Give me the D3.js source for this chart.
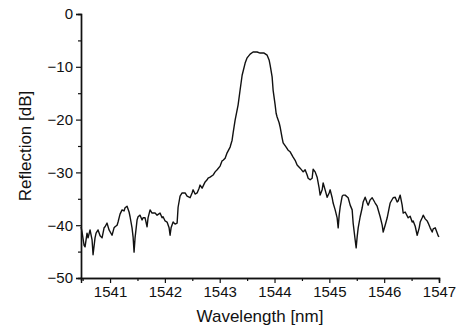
<!DOCTYPE html>
<html>
<head>
<meta charset="utf-8">
<script src="https://cdn.jsdelivr.net/npm/d3@7"></script>
<style>
  body { margin: 0; background: #fff; }
  text { font-family: Arial, "Liberation Sans", sans-serif; fill: #111; }
</style>
</head>
<body>
<div id="chart"></div>
<script>
// Reflection spectrum
const wavelength = [
  1540.471, 1540.489, 1540.526, 1540.544, 1540.580, 1540.599, 1540.635, 1540.672, 1540.690, 1540.726,
  1540.745, 1540.781, 1540.818, 1540.854, 1540.891, 1540.909, 1540.945, 1540.982, 1541.036, 1541.073,
  1541.091, 1541.128, 1541.146, 1541.182, 1541.219, 1541.255, 1541.274, 1541.310, 1541.347, 1541.365,
  1541.401, 1541.420, 1541.438, 1541.456, 1541.493, 1541.511, 1541.547, 1541.584, 1541.602, 1541.639,
  1541.675, 1541.693, 1541.730, 1541.766, 1541.821, 1541.858, 1541.912, 1541.949, 1541.967, 1542.004,
  1542.040, 1542.077, 1542.095, 1542.113, 1542.150, 1542.186, 1542.223, 1542.241, 1542.277, 1542.314,
  1542.369, 1542.405, 1542.460, 1542.496, 1542.515, 1542.551, 1542.588, 1542.624, 1542.642, 1542.679,
  1542.697, 1542.734, 1542.770, 1542.788, 1542.825, 1542.880, 1542.916, 1542.953, 1543.007, 1543.044,
  1543.062, 1543.099, 1543.135, 1543.190, 1543.226, 1543.245, 1543.281, 1543.336, 1543.372, 1543.409,
  1543.464, 1543.500, 1543.555, 1543.609, 1543.682, 1543.737, 1543.810, 1543.865, 1543.901, 1543.920,
  1543.956, 1543.974, 1544.011, 1544.029, 1544.047, 1544.084, 1544.102, 1544.139, 1544.157, 1544.212,
  1544.248, 1544.285, 1544.339, 1544.376, 1544.412, 1544.467, 1544.522, 1544.558, 1544.595, 1544.613,
  1544.650, 1544.686, 1544.704, 1544.741, 1544.777, 1544.814, 1544.832, 1544.869, 1544.887, 1544.923,
  1544.960, 1544.996, 1545.015, 1545.051, 1545.069, 1545.106, 1545.142, 1545.161, 1545.179, 1545.197,
  1545.234, 1545.252, 1545.288, 1545.343, 1545.380, 1545.416, 1545.434, 1545.471, 1545.489, 1545.507,
  1545.526, 1545.562, 1545.599, 1545.617, 1545.653, 1545.690, 1545.708, 1545.745, 1545.781, 1545.836,
  1545.872, 1545.927, 1545.964, 1545.982, 1546.018, 1546.055, 1546.091, 1546.109, 1546.164, 1546.201,
  1546.237, 1546.255, 1546.292, 1546.328, 1546.347, 1546.383, 1546.438, 1546.474, 1546.511, 1546.529,
  1546.566, 1546.602, 1546.639, 1546.657, 1546.693, 1546.712, 1546.748, 1546.785, 1546.803, 1546.839,
  1546.876, 1546.894, 1546.931, 1546.967, 1546.985, 1547.000
];
const reflection = [
  -40.3, -41.3, -43.8, -44.1, -41.5, -42.4, -40.9, -42.8, -45.6, -42.4,
  -41.5, -40.9, -42.0, -42.4, -40.5, -40.3, -39.6, -40.9, -41.9, -40.5,
  -40.3, -40.0, -39.4, -37.9, -37.1, -37.3, -36.7, -36.4, -37.5, -38.4,
  -40.5, -42.2, -45.1, -42.4, -39.0, -38.4, -38.1, -39.0, -38.6, -38.6,
  -40.3, -38.6, -37.1, -37.7, -37.7, -38.1, -37.7, -38.6, -38.4, -39.2,
  -39.4, -40.5, -41.9, -40.5, -39.4, -39.8, -39.6, -36.6, -34.5, -33.9,
  -33.9, -34.5, -34.8, -33.9, -33.3, -34.1, -33.9, -33.0, -32.4, -33.0,
  -32.6, -31.8, -31.4, -31.1, -30.9, -30.5, -29.9, -29.5, -28.8, -27.8,
  -27.7, -27.3, -26.3, -25.2, -23.9, -22.5, -20.1, -17.2, -14.4, -11.6,
  -9.3, -8.3, -7.6, -7.2, -7.2, -7.4, -7.4, -7.8, -8.7, -9.7,
  -11.9, -14.4, -17.2, -18.8, -19.5, -20.6, -21.4, -23.5, -24.4, -25.2,
  -25.8, -26.1, -27.1, -27.7, -28.6, -29.2, -29.9, -29.5, -30.5, -31.1,
  -31.4, -31.1, -29.4, -29.9, -30.9, -33.0, -34.3, -33.3, -32.0, -33.3,
  -34.7, -33.9, -33.3, -34.8, -35.8, -37.1, -38.6, -40.5, -38.1, -36.6,
  -34.5, -34.3, -34.3, -34.8, -36.2, -37.1, -39.6, -42.8, -44.3, -42.2,
  -40.5, -38.4, -36.7, -35.6, -34.7, -35.8, -36.2, -35.2, -34.8, -35.8,
  -36.4, -38.4, -40.0, -41.3, -40.0, -38.6, -36.7, -35.8, -34.8, -34.7,
  -35.6, -35.4, -34.3, -36.2, -37.7, -37.5, -38.6, -38.3, -39.4, -39.2,
  -40.2, -41.9, -40.5, -39.4, -38.6, -38.1, -38.8, -39.2, -39.6, -40.5,
  -41.3, -40.7, -40.5, -41.5, -42.0, -42.2
];

const xTicks = [1541, 1542, 1543, 1544, 1545, 1546, 1547];
const xMinor = [1540.5, 1541.5, 1542.5, 1543.5, 1544.5, 1545.5, 1546.5];
const yTicks = [0, -10, -20, -30, -40, -50];
const yMinor = [-5, -15, -25, -35, -45];

const W = 463, H = 331;
const margin = { top: 14, right: 24, bottom: 53, left: 81 };
const width = W - margin.left - margin.right;
const height = H - margin.top - margin.bottom;

const svg = d3.select('#chart').append('svg')
  .attr('width', W)
  .attr('height', H);

const g = svg.append('g')
  .attr('transform', `translate(${margin.left},${margin.top})`);

const x = d3.scaleLinear().domain([1540.47, 1547]).range([0, width]);
const y = d3.scaleLinear().domain([-50, 0]).range([height, 0]);

// minor ticks first, then the main axes on top
g.append('g')
  .attr('transform', `translate(0,${height})`)
  .call(d3.axisBottom(x).tickValues(xMinor).tickSize(3).tickFormat(''));
g.append('g')
  .call(d3.axisLeft(y).tickValues(yMinor).tickSize(3).tickFormat(''));

g.append('g')
  .attr('transform', `translate(0,${height})`)
  .call(d3.axisBottom(x).tickValues(xTicks).tickSize(5).tickPadding(3).tickFormat(d3.format('d')));
g.append('g')
  .call(d3.axisLeft(y).tickValues(yTicks).tickSize(5).tickPadding(3)
    .tickFormat(d => d < 0 ? '\u2212' + Math.abs(d) : d));

g.selectAll('.domain').attr('stroke', '#111').attr('stroke-width', 1.4);
g.selectAll('.tick line').attr('stroke', '#111').attr('stroke-width', 1.2);
g.selectAll('.tick text').attr('font-size', '15px').attr('fill', '#111');

// spectrum
const line = d3.line()
  .x((d, i) => x(wavelength[i]))
  .y(d => y(d));

g.append('path')
  .datum(reflection)
  .attr('fill', 'none')
  .attr('stroke', '#111')
  .attr('stroke-width', 1.4)
  .attr('stroke-linejoin', 'round')
  .attr('d', line);

// axis titles
svg.append('text')
  .attr('x', margin.left + width / 2)
  .attr('y', 322)
  .attr('text-anchor', 'middle')
  .attr('font-size', '17px')
  .text('Wavelength [nm]');

svg.append('text')
  .attr('transform', `translate(31,${margin.top + height / 2}) rotate(-90)`)
  .attr('text-anchor', 'middle')
  .attr('font-size', '17px')
  .text('Reflection [dB]');
</script>
</body>
</html>
